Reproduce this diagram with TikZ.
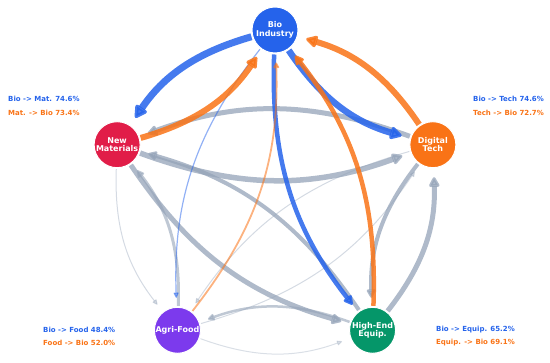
\documentclass[tikz,border=0pt]{standalone}
\usepackage{fontspec}
\setmainfont{DejaVu Sans}
\usepackage{xcolor}
\usetikzlibrary{arrows.meta}
\definecolor{BioBlue}{HTML}{2563EB}
\definecolor{MatRed}{HTML}{E11D48}
\definecolor{TechOrange}{HTML}{F97316}
\definecolor{FoodPurple}{HTML}{7C3AED}
\definecolor{EquipGreen}{HTML}{059669}
\definecolor{LinkGray}{HTML}{94A3B8}
\tikzstyle{SectorNode} =[circle,draw=white,line width=1pt,minimum size=46pt,inner sep=0pt,text=white,align=center,font=\bfseries\fontsize{8}{8.5}\selectfont]
\tikzstyle{Flow} =[-{Triangle[round,length=4.5pt 1.4,width=3.5pt 1.6]},shorten >=9pt,shorten <=1pt]
\tikzstyle{BioFlow} =[Flow,draw=BioBlue,opacity=0.85]
\tikzstyle{BackFlow} =[Flow,draw=TechOrange,opacity=0.85]
\tikzstyle{CrossFlow} =[Flow,draw=LinkGray,opacity=0.75]
\tikzstyle{ShareLabel} =[anchor=west,inner sep=0pt,font=\bfseries\fontsize{7}{8}\selectfont]
\begin{document}
\begin{tikzpicture}[x=1pt,y=1pt]
\useasboundingbox (-275,-167) rectangle (275,196);
\node[SectorNode,fill=BioBlue](Bio) at (90:166){Bio\\Industry};
\node[SectorNode,fill=MatRed](Mat) at (162:166){New\\Materials};
\node[SectorNode,fill=TechOrange](Tech) at (18:166){Digital\\Tech};
\node[SectorNode,fill=FoodPurple](Food) at (234:166){Agri-Food};
\node[SectorNode,fill=EquipGreen](Equip) at (306:166){High-End\\Equip.};
% links between the other sectors
\draw[CrossFlow,line width=5.5pt] (Mat) to[bend right=20] (Tech);
\draw[CrossFlow,line width=5pt] (Tech) to[bend right=20] (Mat);
\draw[CrossFlow,line width=5pt] (Mat) to[bend right=20] (Equip);
\draw[CrossFlow,line width=4pt] (Equip) to[bend right=20] (Mat);
\draw[CrossFlow,line width=3pt,opacity=0.6] (Food) to[bend right=20] (Mat);
\draw[CrossFlow,line width=1pt,opacity=0.4] (Mat) to[bend right=20] (Food);
\draw[CrossFlow,line width=4pt] (Tech) to[bend right=20] (Equip);
\draw[CrossFlow,line width=5pt] (Equip) to[bend right=20] (Tech);
\draw[CrossFlow,line width=1pt,opacity=0.4] (Tech) to[bend right=20] (Food);
\draw[CrossFlow,line width=1pt,opacity=0.4] (Food) to[bend right=20] (Tech);
\draw[CrossFlow,line width=1pt,opacity=0.35] (Food) to[bend right=20] (Equip);
\draw[CrossFlow,line width=2.5pt,opacity=0.6] (Equip) to[bend right=20] (Food);
% bio industry out and back
\draw[BioFlow,line width=7pt] (Bio) to[bend right=20] (Mat);
\draw[BioFlow,line width=6.5pt] (Bio) to[bend right=20] (Tech);
\draw[BioFlow,line width=4.5pt] (Bio) to[bend right=20] (Equip);
\draw[BioFlow,line width=1.2pt,opacity=0.5] (Bio) to[bend right=20] (Food);
\draw[BackFlow,line width=6pt] (Mat) to[bend right=20] (Bio);
\draw[BackFlow,line width=6pt] (Tech) to[bend right=20] (Bio);
\draw[BackFlow,line width=4.5pt] (Equip) to[bend right=20] (Bio);
\draw[BackFlow,line width=1.8pt,opacity=0.55] (Food) to[bend right=20] (Bio);
% shares
\node[ShareLabel,text=BioBlue](MatOut) at (-267,97){Bio -> Mat. 74.6\%};
\node[ShareLabel,text=TechOrange](MatIn) at (-267,83){Mat. -> Bio 73.4\%};
\node[ShareLabel,text=BioBlue](TechOut) at (198,97){Bio -> Tech 74.6\%};
\node[ShareLabel,text=TechOrange](TechIn) at (198,83){Tech -> Bio 72.7\%};
\node[ShareLabel,text=BioBlue](FoodOut) at (-232,-134){Bio -> Food 48.4\%};
\node[ShareLabel,text=TechOrange](FoodIn) at (-232,-147){Food -> Bio 52.0\%};
\node[ShareLabel,text=BioBlue](EquipOut) at (161,-134){Bio -> Equip. 65.2\%};
\node[ShareLabel,text=TechOrange](EquipIn) at (161,-147){Equip. -> Bio 69.1\%};
\end{tikzpicture}
\end{document}
